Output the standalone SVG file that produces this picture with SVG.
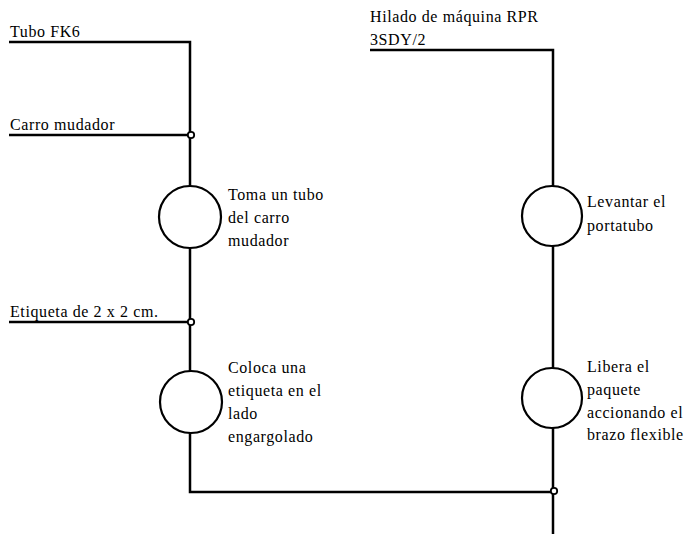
<svg xmlns="http://www.w3.org/2000/svg" width="692" height="534" viewBox="0 0 692 534">
<style>
.ln{fill:none;stroke:#000;stroke-width:2.5}
.op{fill:#fff;stroke:#000;stroke-width:2.2}
.jn{fill:#fff;stroke:#000;stroke-width:1.8}
.t{font-family:'Liberation Serif','DejaVu Serif','Times New Roman',serif;font-size:16px;letter-spacing:0.6px;fill:#000}
</style>
<rect width="692" height="534" fill="#fff"/>
<g id="connectors">
<polyline class="ln" points="9,42 190,42 190,186"/>
<line class="ln" x1="9" y1="135" x2="190" y2="135"/>
<line class="ln" x1="190" y1="248" x2="190" y2="371"/>
<line class="ln" x1="9" y1="322" x2="190" y2="322"/>
<polyline class="ln" points="190,433 190,492 553,492"/>
<polyline class="ln" points="370,50 553,50 553,186"/>
<line class="ln" x1="553" y1="246" x2="553" y2="368"/>
<line class="ln" x1="553" y1="428" x2="553" y2="534"/>
<circle class="jn" cx="191" cy="135" r="3.2"/>
<circle class="jn" cx="191" cy="322" r="3.2"/>
<circle class="jn" cx="554" cy="491" r="3.2"/>
</g>
<g class="t" font-family="Liberation Serif, serif" font-size="16">
<g id="in1"><text x="10" y="37">Tubo FK6</text></g>
<g id="in2"><text x="10" y="130">Carro mudador</text></g>
<g id="in3"><text x="10" y="317">Etiqueta de 2 x 2 cm.</text></g>
<g id="in4"><text x="370" y="22">Hilado de máquina RPR</text><text x="370" y="45">3SDY/2</text></g>
</g>
<g id="op1"><circle class="op" cx="190" cy="217" r="31"/>
<text class="t" x="228" y="200">Toma un tubo</text><text class="t" x="228" y="223">del carro</text><text class="t" x="228" y="246">mudador</text></g>
<g id="op2"><circle class="op" cx="191" cy="402" r="31"/>
<text class="t" x="228" y="373">Coloca una</text><text class="t" x="228" y="396">etiqueta en el</text><text class="t" x="228" y="419">lado</text><text class="t" x="228" y="442">engargolado</text></g>
<g id="op3"><circle class="op" cx="552" cy="216" r="30"/>
<text class="t" x="587" y="207">Levantar el</text><text class="t" x="587" y="231">portatubo</text></g>
<g id="op4"><circle class="op" cx="552" cy="398" r="30"/>
<text class="t" x="587" y="372">Libera el</text><text class="t" x="587" y="395">paquete</text><text class="t" x="587" y="418">accionando el</text><text class="t" x="587" y="440">brazo flexible</text></g>
</svg>
